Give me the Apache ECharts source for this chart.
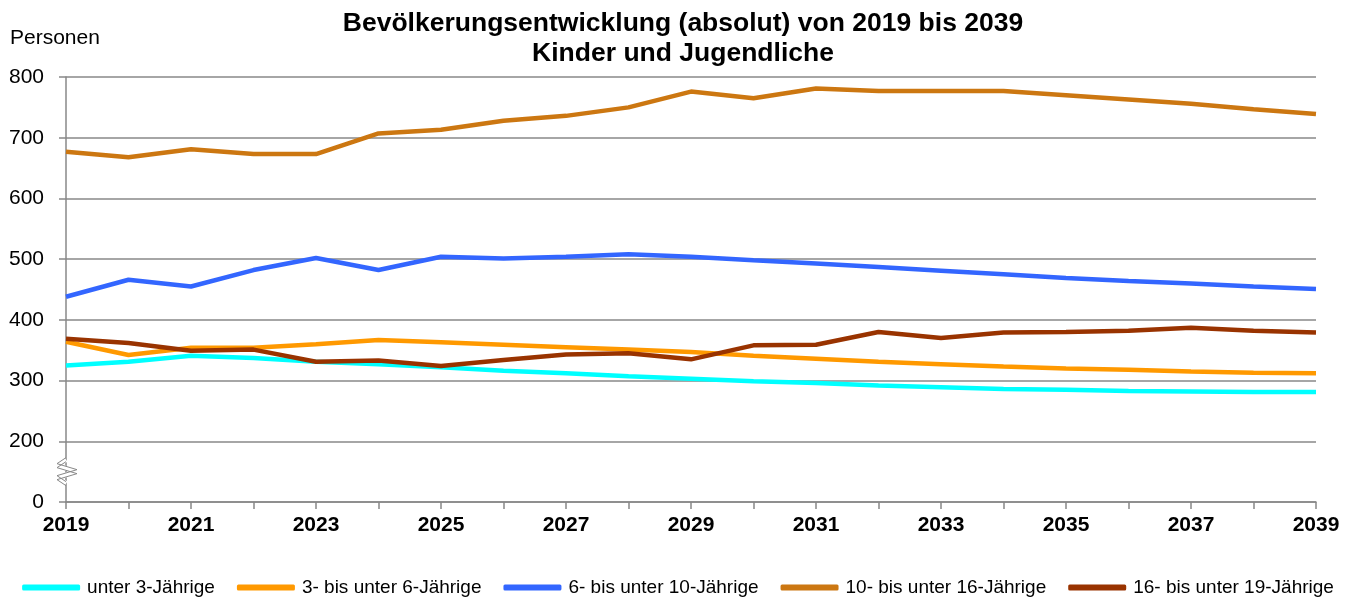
<!DOCTYPE html>
<html><head><meta charset="utf-8">
<script src="https://cdn.jsdelivr.net/npm/echarts@6/dist/echarts.min.js"></script>
<style>html,body{margin:0;padding:0;background:#fff}#c{width:1356px;height:600px}</style>
</head><body><div id="c"></div>
<script>
const years = ['2019','2020','2021','2022','2023','2024','2025','2026','2027','2028','2029','2030','2031','2032','2033','2034','2035','2036','2037','2038','2039'];
const seriesNames = ['unter 3-Jährige','3- bis unter 6-Jährige','6- bis unter 10-Jährige','10- bis unter 16-Jährige','16- bis unter 19-Jährige'];
const unter3 = [325,331,341,337,331,327,322,316,312,307,303,299,296,292,289,286,285,283,282,281,281];
const von3bis6 = [364,342,354,354,360,367,363,359,355,351,347,341,336,331,327,323,320,318,315,313,312];
const von6bis10 = [438,466,455,482,502,482,504,501,504,508,504,498,493,487,481,475,469,464,460,455,451];
const von10bis16 = [677,668,681,673,673,707,713,728,736,750,776,765,781,777,777,777,770,763,756,747,739];
const von16bis19 = [369,362,349,351,331,333,324,334,343,345,335,358,359,380,370,379,380,382,387,382,379];
const colors = ['#00FFFF','#FF9900','#3366FF','#CC7711','#993300'];
const yTicks = [100,200,300,400,500,600,700,800];
const yLabelMap = {100:'0'};

const font = '"Liberation Sans", Arial, sans-serif';
const chart = echarts.init(document.getElementById('c'));
const data = [unter3, von3bis6, von6bis10, von10bis16, von16bis19];
chart.setOption({
  animation:false,
  textStyle:{fontFamily:font},
  title:{text:'Bevölkerungsentwicklung (absolut) von 2019 bis 2039\nKinder und Jugendliche',left:683,textAlign:'center',top:9,padding:0,
    textStyle:{fontFamily:font,fontSize:26.5,fontWeight:'bold',color:'#000',lineHeight:30}},
  legend:{top:573,left:'center',itemWidth:58,itemHeight:6,itemGap:22,icon:'roundRect',
    textStyle:{fontFamily:font,fontSize:19,color:'#000',padding:[0,0,0,2]},data:seriesNames},
  grid:{left:66,right:40,top:77,bottom:98},
  xAxis:{type:'category',data:years,boundaryGap:false,
    axisLine:{lineStyle:{color:'#888',width:1.5}},
    axisTick:{show:true,interval:0,length:7,lineStyle:{color:'#888',width:1.5}},
    axisLabel:{interval:1,color:'#000',fontSize:21,fontWeight:'bold',fontFamily:font,margin:13},
    splitLine:{show:false}},
  yAxis:{type:'value',min:100,max:800,interval:100,
    axisLine:{show:true,lineStyle:{color:'#888',width:1.5}},
    axisTick:{show:true,length:7,lineStyle:{color:'#888',width:1.5}},
    axisLabel:{color:'#000',fontSize:21,fontFamily:font,margin:22,formatter:v=>yLabelMap[v]!==undefined?yLabelMap[v]:String(v)},
    splitLine:{show:true,lineStyle:{color:'#888',width:1.5}}},
  series:seriesNames.map((n,i)=>({name:n,type:'line',data:data[i],symbol:'none',
    lineStyle:{width:4.5,color:colors[i]},itemStyle:{color:colors[i]}}))
});
// axis break zigzag
const p = chart.convertToPixel({xAxisIndex:0,yAxisIndex:0},[0,150]);
const x0=p[0], yc=p[1];
const zz = (dy)=>[[x0,yc-12+dy],[x0-9,yc-6+dy],[x0+11,yc+dy],[x0-9,yc+6+dy],[x0,yc+12+dy]];
chart.setOption({graphic:[
  {type:'text',left:10,top:28,style:{text:'Personen',font:'21px '+font,fill:'#000'}},
  {type:'polyline',shape:{points:zz(0)},style:{stroke:'#fff',lineWidth:5,fill:null},z:100},
  {type:'polyline',shape:{points:zz(-2)},style:{stroke:'#888',lineWidth:1,fill:null},z:101},
  {type:'polyline',shape:{points:zz(2)},style:{stroke:'#888',lineWidth:1,fill:null},z:101}
]});
</script></body></html>
